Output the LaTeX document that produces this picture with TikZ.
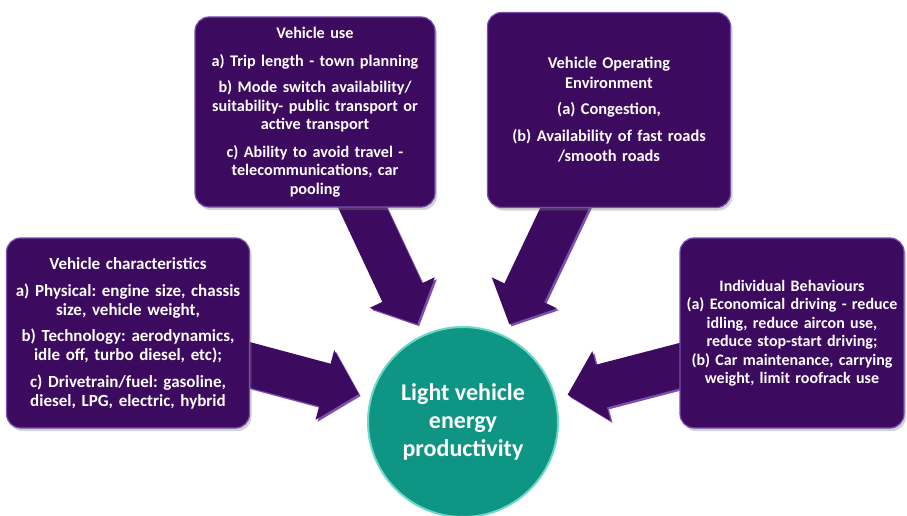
\documentclass[tikz,border=0pt]{standalone}
\usepackage{fontspec}
\setmainfont{Carlito}
\usetikzlibrary{arrows.meta,shadows,backgrounds,positioning}
\definecolor{boxpurple}{HTML}{3C0A5F}
\definecolor{rimpurple}{HTML}{7A4FB0}
\definecolor{hubteal}{HTML}{0F9583}
\definecolor{rimteal}{HTML}{6FD8C8}
\tikzset{
    basic/.style  = {draw, font=\bfseries, align=center, text=white},
    factor/.style = {basic, rectangle, rounded corners=14pt, fill=boxpurple, draw=rimpurple,
                     line width=1.2pt, inner sep=2pt,
                     drop shadow={opacity=0.35, shadow xshift=2pt, shadow yshift=-3pt}},
    hub/.style    = {basic, circle, fill=hubteal, draw=rimteal, line width=2pt, minimum size=190pt,
                     font=\bfseries\fontsize{24}{28}\selectfont},
    push tip/.style = {-{Triangle[width=70pt,length=35pt]}, line width=44pt, shorten >=12pt},
    push/.style   = {push tip, boxpurple,
                     preaction={push tip, draw=rimpurple, fill=rimpurple,
                                transform canvas={shift={(2pt,-2pt)}}}}
}

\begin{document}
\frenchspacing
\begin{tikzpicture}[x=1pt, y=-1pt]
    \useasboundingbox (0,0) rectangle (907,516);

    \begin{scope}[every node/.style={factor}]
        \node[minimum width=240pt, minimum height=190pt, text width=236pt,
              font=\bfseries\fontsize{16.2}{18.5}\selectfont] (use) at (315,112)
            {Vehicle use\\[9pt]
             a) Trip length - town planning\\[8pt]
             b) Mode switch availability/\\
             suitability- public transport or\\
             active transport\\[9pt]
             c) Ability to avoid travel -\\
             telecommunications, car\\
             pooling};
        \node[minimum width=243pt, minimum height=195pt, text width=239pt,
              font=\bfseries\fontsize{16.4}{20}\selectfont] (env) at (609,110)
            {Vehicle Operating\\
             Environment\\[6pt]
             (a) Congestion,\\[7pt]
             (b) Availability of fast roads\\
             /smooth roads};
        \node[minimum width=243pt, minimum height=190pt, text width=239pt,
              font=\bfseries\fontsize{17}{18.5}\selectfont] (char) at (128,333)
            {Vehicle characteristics\\[9pt]
             a) Physical: engine size, chassis\\
             size, vehicle weight,\\[8pt]
             b) Technology: aerodynamics,\\
             idle off, turbo diesel, etc);\\[9pt]
             c) Drivetrain/fuel: gasoline,\\
             diesel, LPG, electric, hybrid};
        \node[minimum width=224pt, minimum height=190pt, text width=220pt,
              font=\bfseries\fontsize{16}{18.5}\selectfont] (behav) at (792,333)
            {Individual Behaviours\\
             (a) Economical driving - reduce\\
             idling, reduce aircon use,\\
             reduce stop-start driving;\\
             (b) Car maintenance, carrying\\
             weight, limit roofrack use};
    \end{scope}

    \node[hub] (hub) at (463,422) {Light vehicle\\energy\\productivity};

    % block arrows run from under each box to the circle
    \begin{scope}[on background layer]
        \draw[push] ([xshift=38pt,yshift=20pt]use.south) -- (hub);
        \draw[push] ([xshift=-35pt,yshift=20pt]env.south) -- (hub);
        \draw[push] ([xshift=-22pt,yshift=-26pt]char.east) -- (hub);
        \draw[push] ([xshift=22pt,yshift=-27pt]behav.west) -- (hub);
    \end{scope}
\end{tikzpicture}
\end{document}
